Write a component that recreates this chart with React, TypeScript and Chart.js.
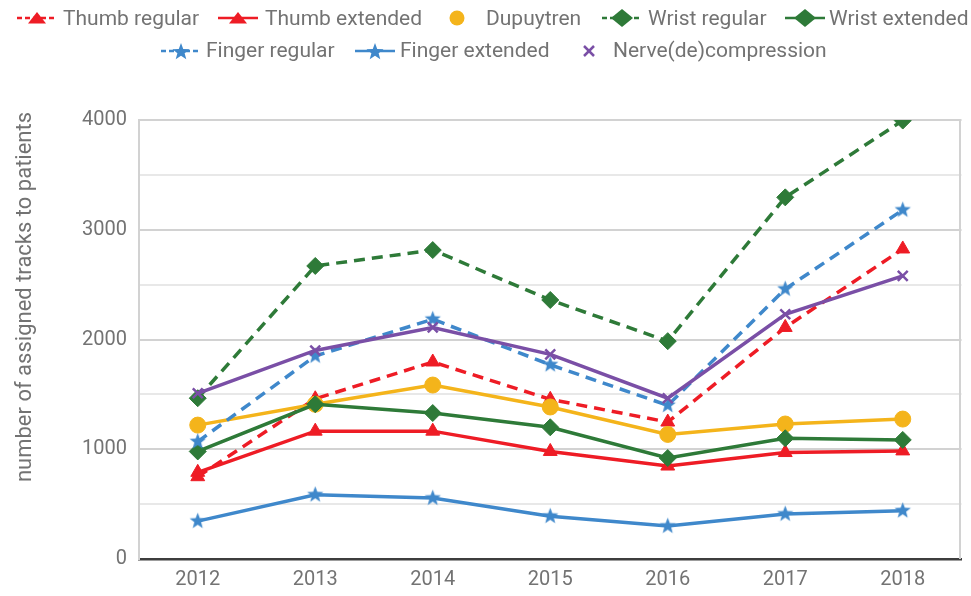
import React, { useEffect, useRef } from "react";
import { Chart, registerables } from "chart.js";

Chart.register(...registerables);

// ---- data ----
const years = ["2012", "2013", "2014", "2015", "2016", "2017", "2018"];
const seriesNames = [
  "Thumb regular",
  "Thumb extended",
  "Dupuytren",
  "Wrist regular",
  "Wrist extended",
  "Finger regular",
  "Finger extended",
  "Nerve(de)compression",
];
const thumbRegular = [750, 1460, 1795, 1455, 1248, 2110, 2825];
const thumbExtended = [790, 1165, 1165, 980, 847, 970, 985];
const dupuytren = [1220, 1410, 1585, 1385, 1135, 1230, 1275];
const wristRegular = [1465, 2670, 2815, 2360, 1985, 3295, 3995];
const wristExtended = [980, 1410, 1330, 1200, 920, 1100, 1085];
const fingerRegular = [1070, 1850, 2185, 1770, 1400, 2460, 3180];
const fingerExtended = [345, 585, 555, 390, 300, 410, 440];
const nerve = [1510, 1900, 2110, 1865, 1465, 2230, 2580];
const yAxisTitle = "number of assigned tracks to patients";
const yMin = 0;
const yMax = 4000;
const yStep = 500;
const yLabelStep = 1000;

// ---- style ----
const RED = "#EE1C25";
const ORANGE = "#F4B41B";
const GREEN = "#2E7A38";
const BLUE = "#3F88CB";
const PURPLE = "#7A4FA6";
const FONT = "Roboto, 'Open Sans', sans-serif";
const TEXT = "#737373";
const DASH = [11, 7];

function makeStar(color: string, outer: number) {
  const inner = outer * 0.42;
  const size = Math.ceil(outer * 2 + 2);
  const c = document.createElement("canvas");
  c.width = size;
  c.height = size;
  const ctx = c.getContext("2d")!;
  ctx.translate(size / 2, size / 2);
  ctx.beginPath();
  for (let i = 0; i < 10; i++) {
    const r = i % 2 === 0 ? outer : inner;
    const a = -Math.PI / 2 + (i * Math.PI) / 5;
    ctx.lineTo(r * Math.cos(a), r * Math.sin(a));
  }
  ctx.closePath();
  ctx.fillStyle = color;
  ctx.fill();
  return c;
}

type MarkerKind = "triangle" | "circle" | "diamond" | "star" | "cross";

function Marker({ kind, color, cx, cy }: { kind: MarkerKind; color: string; cx: number; cy: number }) {
  if (kind === "triangle") {
    return <polygon points={`${cx - 9},${cy + 5.5} ${cx + 9},${cy + 5.5} ${cx},${cy - 6}`} fill={color} />;
  }
  if (kind === "circle") {
    return <circle cx={cx} cy={cy} r={7.5} fill={color} />;
  }
  if (kind === "diamond") {
    return <polygon points={`${cx - 11},${cy} ${cx},${cy - 9} ${cx + 11},${cy} ${cx},${cy + 9}`} fill={color} />;
  }
  if (kind === "star") {
    const pts: string[] = [];
    const outer = 9;
    const inner = 3.8;
    for (let i = 0; i < 10; i++) {
      const r = i % 2 === 0 ? outer : inner;
      const a = -Math.PI / 2 + (i * Math.PI) / 5;
      pts.push(`${cx + r * Math.cos(a)},${cy + 1 + r * Math.sin(a)}`);
    }
    return <polygon points={pts.join(" ")} fill={color} />;
  }
  return (
    <g stroke={color} strokeWidth={2.5}>
      <line x1={cx - 5} y1={cy - 5} x2={cx + 5} y2={cy + 5} />
      <line x1={cx - 5} y1={cy + 5} x2={cx + 5} y2={cy - 5} />
    </g>
  );
}

function LegendIcon({
  kind,
  color,
  line,
}: {
  kind: MarkerKind;
  color: string;
  line: "dash" | "solid" | "none";
}) {
  return (
    <svg width={40} height={24} style={{ display: "block" }}>
      {line !== "none" && (
        <line
          x1={0}
          y1={12}
          x2={40}
          y2={12}
          stroke={color}
          strokeWidth={2.5}
          strokeDasharray={line === "dash" ? "5 3" : undefined}
        />
      )}
      <Marker kind={kind} color={color} cx={20} cy={12} />
    </svg>
  );
}

const legendLayout = [
  { kind: "triangle", color: RED, line: "dash", icon: 17, text: 63, row: 0 },
  { kind: "triangle", color: RED, line: "solid", icon: 218, text: 265, row: 0 },
  { kind: "circle", color: ORANGE, line: "none", icon: 437, text: 486, row: 0 },
  { kind: "diamond", color: GREEN, line: "dash", icon: 602, text: 648, row: 0 },
  { kind: "diamond", color: GREEN, line: "solid", icon: 785, text: 829, row: 0 },
  { kind: "star", color: BLUE, line: "dash", icon: 161, text: 206, row: 1 },
  { kind: "star", color: BLUE, line: "solid", icon: 355, text: 400, row: 1 },
  { kind: "cross", color: PURPLE, line: "none", icon: 569, text: 613, row: 1 },
] as const;

const rowIconTop = [6, 39];
const rowTextTop = [8, 40];

export default function App() {
  const canvasRef = useRef<HTMLCanvasElement | null>(null);

  useEffect(() => {
    const canvas = canvasRef.current;
    if (!canvas) return;
    const star = makeStar(BLUE, 8.5);

    const values = [
      thumbRegular,
      thumbExtended,
      dupuytren,
      wristRegular,
      wristExtended,
      fingerRegular,
      fingerExtended,
      nerve,
    ];
    const colors = [RED, RED, ORANGE, GREEN, GREEN, BLUE, BLUE, PURPLE];
    const dashed = [true, false, false, true, false, true, false, false];
    const styles: any[] = ["triangle", "triangle", "circle", "rectRot", "rectRot", star, star, "crossRot"];
    const radii = [8, 8, 8, 8.5, 8.5, 9, 9, 7];
    const borderW = [1, 1, 1, 1, 1, 0, 0, 2.5];

    const datasets = values.map((v, i) => ({
      label: seriesNames[i],
      data: v,
      borderColor: colors[i],
      backgroundColor: colors[i],
      borderWidth: 3.5,
      borderDash: dashed[i] ? DASH : [],
      pointStyle: styles[i],
      pointRadius: radii[i],
      pointBorderWidth: borderW[i],
      pointBorderColor: colors[i],
      pointBackgroundColor: colors[i],
      tension: 0,
      fill: false,
      order: values.length - i,
    }));

    const extras = {
      id: "extras",
      afterDraw(chart: any) {
        const { ctx, chartArea } = chart;
        ctx.save();
        ctx.strokeStyle = "#d2d2d2";
        ctx.lineWidth = 2;
        ctx.beginPath();
        ctx.moveTo(chartArea.right - 1.5, chartArea.top - 1);
        ctx.lineTo(chartArea.right - 1.5, chartArea.bottom);
        ctx.stroke();
        ctx.translate(31, 297);
        ctx.rotate(-Math.PI / 2);
        ctx.fillStyle = TEXT;
        ctx.font = `22px ${FONT}`;
        ctx.textAlign = "center";
        ctx.textBaseline = "alphabetic";
        ctx.fillText(yAxisTitle, 0, 0);
        ctx.restore();
      },
    };

    const chart = new Chart(canvas, {
      type: "line",
      data: { labels: years, datasets },
      options: {
        animation: false,
        responsive: false,
        maintainAspectRatio: false,
        layout: { padding: { top: 120, right: -2, left: 0, bottom: 0 } },
        plugins: {
          legend: { display: false },
          tooltip: { enabled: false },
          title: { display: false },
        },
        scales: {
          x: {
            type: "category",
            offset: true,
            grid: { display: false, drawTicks: false },
            border: { display: true, color: "#3d3d3d", width: 2.5 },
            ticks: {
              color: TEXT,
              font: { family: FONT, size: 20 },
              padding: 9,
              autoSkip: false,
              maxRotation: 0,
            },
            afterFit: (s: any) => {
              s.height = 37;
            },
          },
          y: {
            min: yMin,
            max: yMax,
            grid: {
              drawTicks: false,
              lineWidth: 2,
              color: (c: any) =>
                c.tick && c.tick.value % yLabelStep === 0 ? "#d2d2d2" : "#e8e8e8",
            },
            border: { display: true, color: "#d2d2d2", width: 2 },
            ticks: {
              stepSize: yStep,
              color: TEXT,
              font: { family: FONT, size: 20 },
              padding: 12,
              callback: (v: any) => (Number(v) % yLabelStep === 0 ? String(v) : ""),
            },
            afterFit: (s: any) => {
              s.width = 139;
            },
          },
        },
      },
      plugins: [extras],
    } as any);

    return () => chart.destroy();
  }, []);

  return (
    <div
      style={{
        position: "fixed",
        left: 0,
        top: 0,
        width: 971,
        height: 596,
        background: "#fff",
        fontFamily: FONT,
      }}
    >
      <canvas
        ref={canvasRef}
        width={971}
        height={596}
        style={{ position: "absolute", left: 0, top: 0, display: "block" }}
      />
      {legendLayout.map((it, i) => (
        <React.Fragment key={i}>
          <div style={{ position: "absolute", left: it.icon, top: rowIconTop[it.row] }}>
            <LegendIcon kind={it.kind as MarkerKind} color={it.color} line={it.line as any} />
          </div>
          <div
            style={{
              position: "absolute",
              left: it.text,
              top: rowTextTop[it.row],
              fontSize: 21,
              lineHeight: "21px",
              color: TEXT,
              whiteSpace: "nowrap",
            }}
          >
            {seriesNames[i]}
          </div>
        </React.Fragment>
      ))}
    </div>
  );
}
